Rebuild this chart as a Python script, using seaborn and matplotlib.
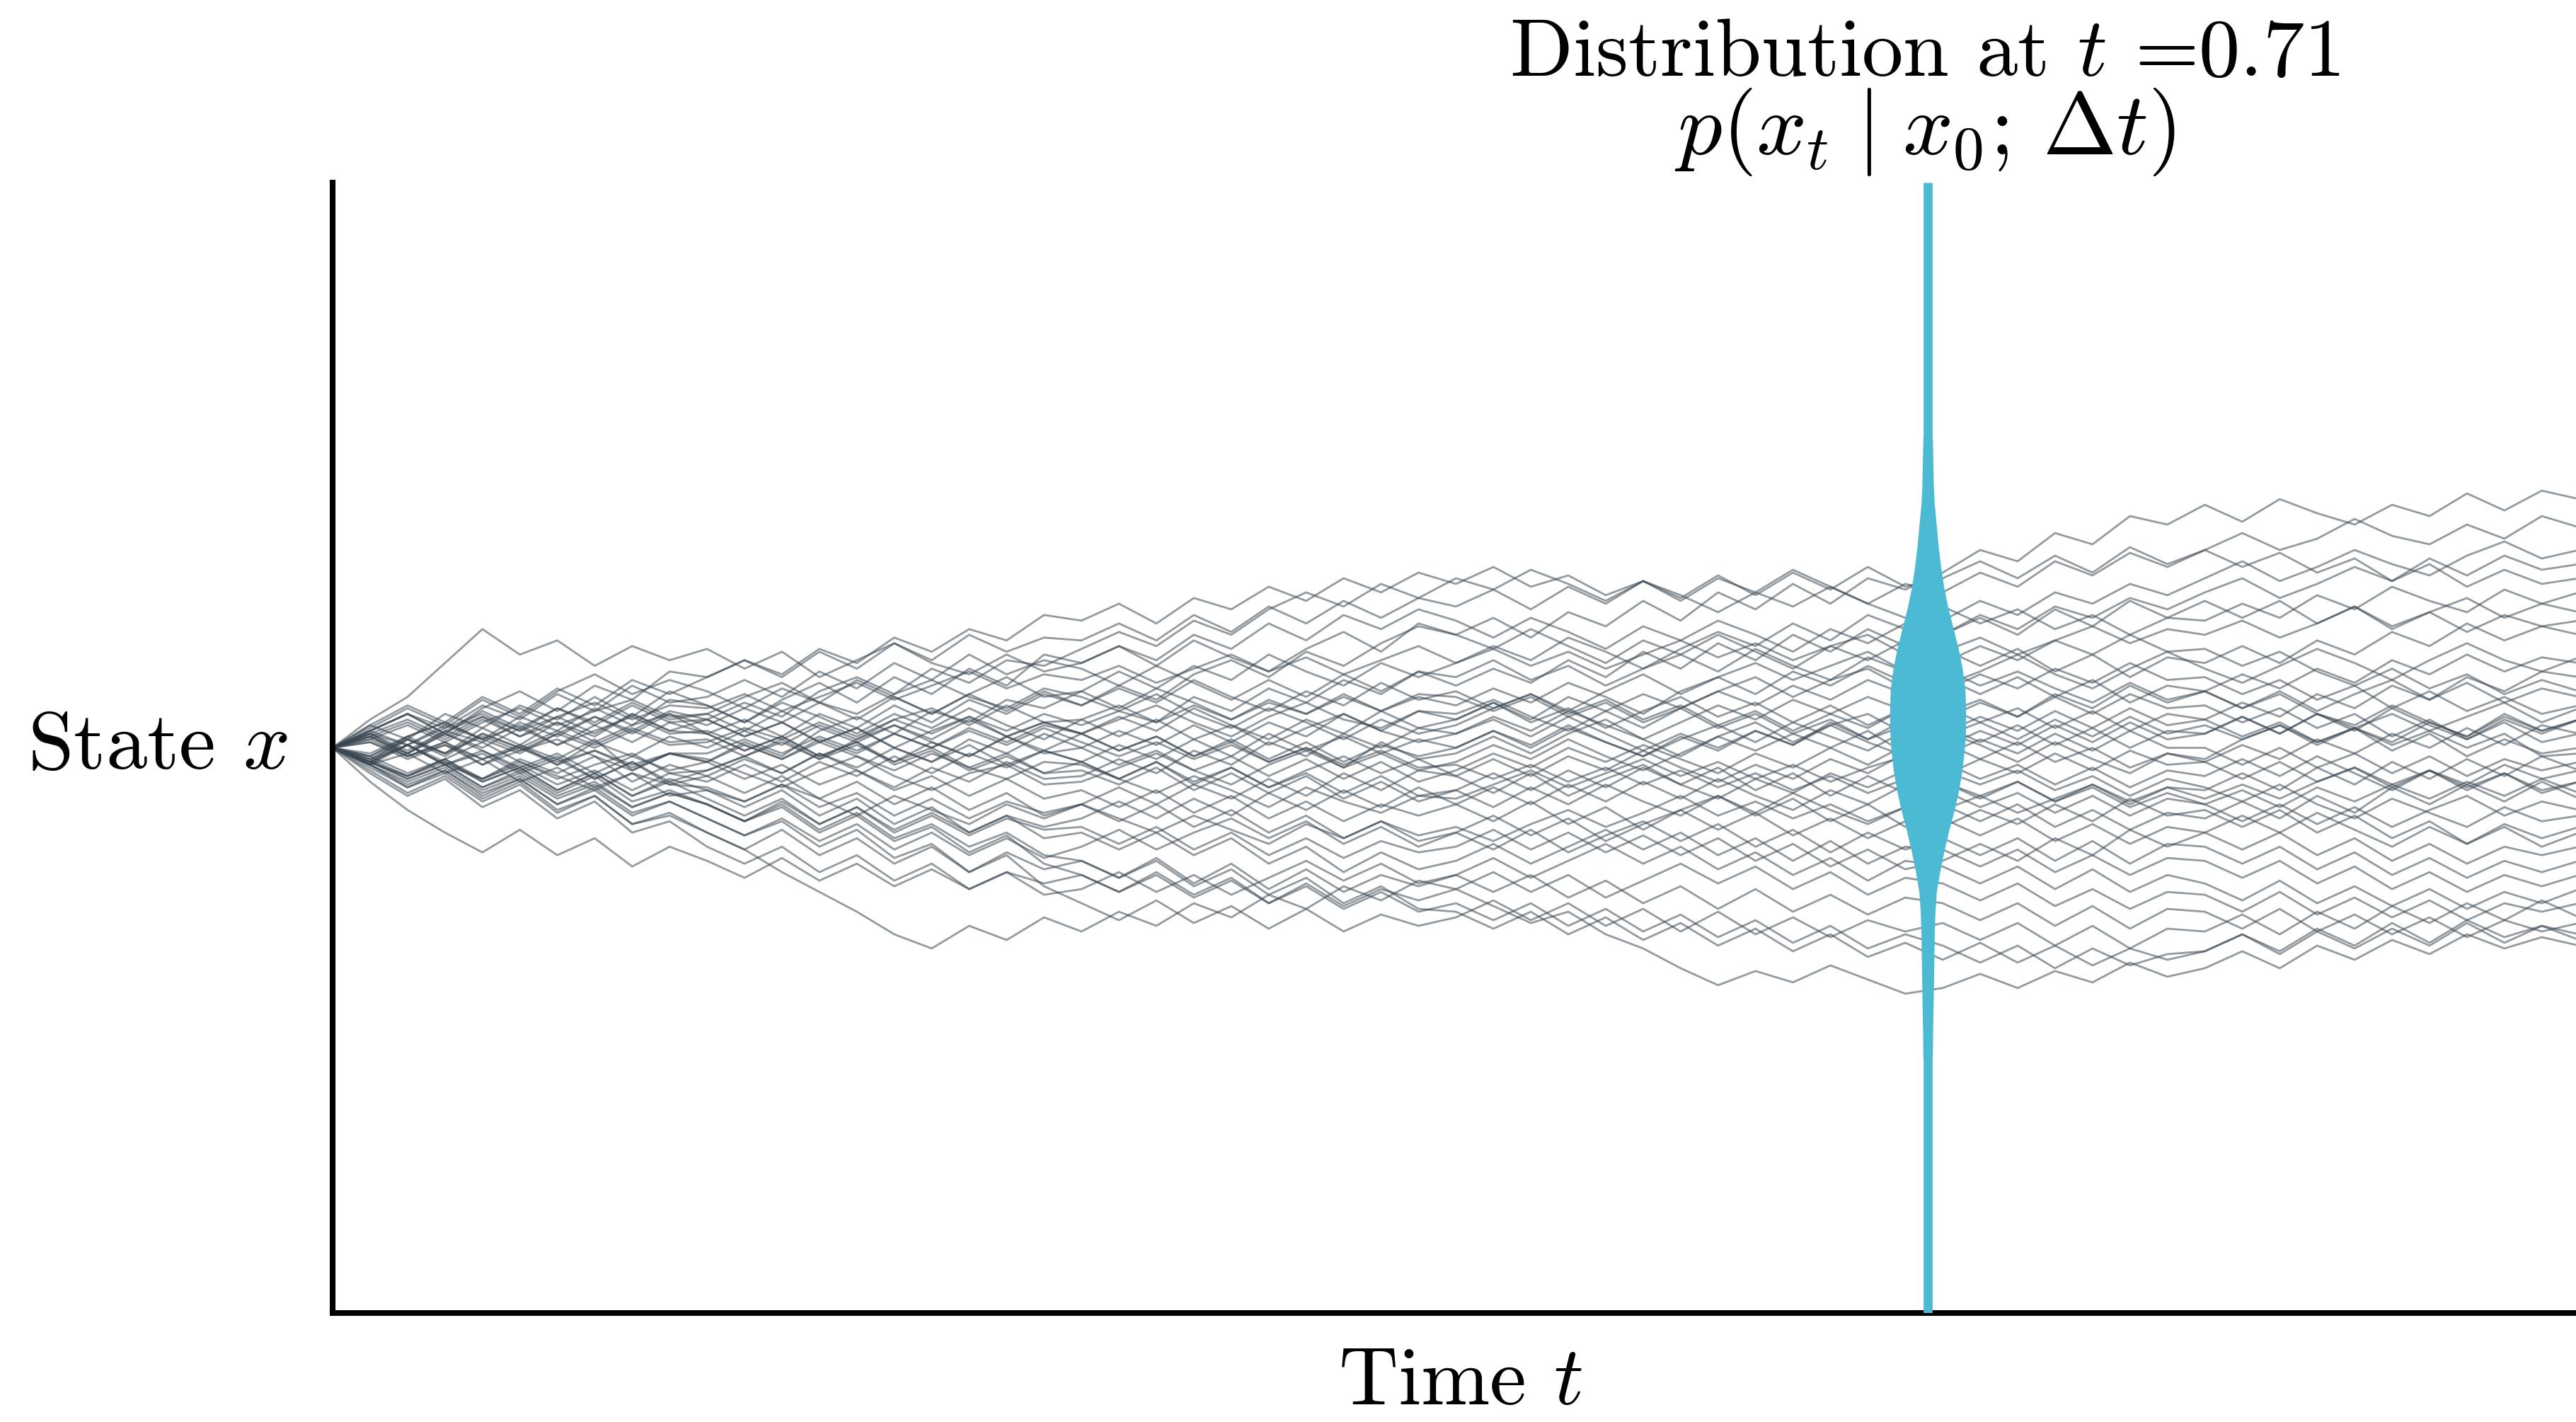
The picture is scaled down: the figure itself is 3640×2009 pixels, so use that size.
import numpy as np
import pandas as pd
import matplotlib
matplotlib.use("Agg")
import matplotlib.pyplot as plt
import seaborn as sns

# ---------------- data (state in units of 1/100) ----------------
n_steps = 60          # time grid: t = i / n_steps, i = 0..60
t_marker = 0.71       # time of the distribution slice

paths = [
    [0,8,3,12,7,15,10,18,11,20,15, 9,17,23,16,25,19,28,22,33,30, 36,29,38,32,27,35,41,34,44,40, 46,39,48,43,52,45,55,49,58,51,60,56,62, 70,66,76,72,82,79,86, 80,88,83,79,86,82,90,84,91,88],
    [0,10,18,30,42,33,38,29,36,31,35, 28,34,25,31,37,30,26,33,27,30, 36,31,40,35,44,38,47,42,49,45, 39,46,41,35,43,38,45,40,34,42,37,44,40, 47,42,50,46,53,49,55, 60,53,58,64,59,67,61,68,63,65],
    [0,6,12,5,14,20,13,22,17,27,25, 31,26,35,30,39,34,42,38,47,45, 51,44,53,49,57,52,60,55,62,58, 64,57,61,54,59,52,60,55,63,57,51,58,55, 62,57,66,61,69,64,70, 76,70,74,81,75,72,79,74,82,78],
    [0,-6,3,-2,7,1,9,4,12,6,10, 16,11,20,25,19,28,23,31,29,35, 41,36,45,40,49,55,50,58,53,60, 56,63,58,52,59,54,48,55,50,57,51,46,50, 44,49,42,47,40,46,45, 51,46,54,49,57,52,48,56,51,55],
    [0,7,14,8,17,11,20,26,19,24,20, 14,21,16,24,18,12,19,25,18,20, 27,21,29,24,33,27,22,30,25,30, 36,31,39,34,28,35,41,36,44,38,47,42,45, 52,47,55,51,58,54,60, 66,59,64,70,65,61,68,73,67,70],
    [0,5,-2,6,11,4,9,2,8,12,5, 10,4,12,7,15,9,17,12,19,15, 22,17,26,31,25,34,29,37,43,40, 35,42,36,30,38,33,40,34,28,36,31,38,35, 29,35,27,33,25,32,30, 36,30,38,33,41,36,44,38,43,40],
    [0,-5,4,9,3,11,6,14,8,17,15, 9,16,11,5,12,7,14,8,3,10, 15,9,18,13,21,16,24,19,27,25, 31,24,29,22,28,33,27,35,29,24,32,27,30, 36,31,38,33,40,34,35, 29,34,27,22,28,21,26,19,24,20],
    [0,4,-3,2,-6,1,-4,3,-8,-2,-5, 2,-3,6,11,5,13,9,17,14,20, 14,21,16,10,17,12,19,13,18,15, 21,16,23,18,12,20,25,19,27,22,29,23,25, 19,25,18,24,16,22,20, 26,21,28,23,31,26,33,27,32,30],
    [0,6,1,8,3,-2,5,11,6,13,10, 4,9,2,7,0,6,11,4,9,5, 11,6,14,8,3,10,5,13,7,10, 16,10,18,13,7,14,20,15,22,17,24,19,20, 26,21,28,23,30,24,25, 19,24,17,22,14,20,13,18,12,15],
    [0,-4,3,-3,5,0,-6,2,-3,4,0, 6,1,8,3,10,14,8,15,9,10, 4,10,3,8,1,7,12,6,2,5, 11,6,13,8,3,9,15,10,17,12,18,13,15, 9,14,7,13,6,12,10, 16,11,19,14,22,17,25,20,27,25],
    [0,5,-1,6,2,9,4,11,5,12,8, 14,9,16,10,18,12,19,13,20,15, 21,16,24,18,13,20,15,23,17,20, 14,19,12,17,10,15,8,13,6,12,7,14,10, 16,11,18,12,19,14,15, 9,14,7,12,4,10,3,9,2,5],
    [0,-6,1,-5,-11,-4,-9,-3,-12,-6,-10, -4,-9,-2,-7,0,-5,3,-2,5,0, 6,1,8,2,9,4,12,6,13,10, 16,9,14,7,13,18,11,16,9,15,8,14,12, 17,11,19,14,22,16,20, 14,20,13,19,24,17,23,16,21,18],
    [0,4,-2,5,0,7,1,8,2,9,5, -1,4,-3,2,-6,-1,-8,-3,-9,-5, 1,-4,3,-3,5,-1,4,-2,3,0, 6,1,8,2,-3,4,-1,6,1,9,3,10,8, 2,8,1,7,0,6,5, 11,5,12,7,2,9,4,12,6,10],
    [0,3,-3,2,-4,1,-6,-1,-7,-2,-5, 1,-4,3,-2,5,0,7,2,8,5, -1,4,-3,3,-4,2,-5,1,-3,0, 6,0,7,2,-3,3,8,2,9,4,-1,6,5, 11,6,13,7,14,8,10, 4,9,2,7,-1,5,-3,3,-2,0],
    [0,5,10,4,11,6,14,9,16,10,12, 6,13,7,2,8,3,10,4,-1,5, -1,4,-3,2,-5,0,-7,-2,-8,-5, 1,-4,3,-3,-8,-2,4,-1,5,0,6,-2,0, 6,1,8,2,9,3,5, 11,5,12,6,14,8,3,10,5,10],
    [0,-5,1,-6,-2,-9,-4,-11,-5,-12,-8, -3,-9,-2,-8,-14,-7,-12,-5,-11,-10, -4,-9,-1,-6,2,-3,5,0,7,5, 10,4,11,5,-1,5,0,6,1,8,2,-3,2, -4,2,-5,0,-7,-2,-5, 1,-4,3,-2,5,0,7,1,8,5],
    [0,-3,4,-2,5,0,6,1,7,2,3, -3,3,-4,1,-5,2,-3,4,-2,0, -6,-1,-8,-3,-10,-4,-11,-5,-12,-8, -2,-7,0,-5,1,-4,-9,-2,-7,0,-6,1,-3, 3,-2,5,-1,6,0,0, -6,0,-7,-2,-9,-3,-10,-4,-8,-5],
    [0,-5,-10,-4,-11,-6,-13,-8,-15,-9,-12, -6,-12,-5,-10,-3,-9,-2,-7,-1,-5, -11,-5,-13,-7,-14,-8,-3,-9,-4,-10, -4,-10,-3,-8,-1,-7,-12,-6,-11,-4,-9,-2,-5, -11,-6,-13,-7,-14,-8,-10, -4,-10,-3,-9,-15,-8,-13,-6,-11,-8],
    [0,4,9,3,10,4,11,5,12,6,5, -1,4,-3,2,-5,0,-7,-2,-9,-8, -13,-7,-15,-9,-16,-10,-18,-12,-19,-15, -9,-15,-8,-14,-7,-13,-18,-11,-16,-9,-14,-8,-10, -4,-9,-2,-8,-1,-6,-5, -11,-5,-12,-7,-14,-8,-15,-9,-16,-12],
    [0,-6,-2,-9,-4,-12,-7,-14,-9,-17,-15, -19,-13,-21,-16,-24,-18,-25,-19,-23,-20, -14,-20,-13,-18,-11,-17,-9,-15,-8,-10, -16,-9,-17,-11,-6,-13,-7,-15,-9,-17,-10,-16,-12, -18,-12,-19,-13,-20,-14,-15, -9,-15,-7,-13,-5,-11,-4,-10,-3,-8],
    [0,4,-2,5,-1,-7,-2,-9,-3,-8,-5, -11,-6,-13,-8,-15,-10,-17,-11,-18,-15, -21,-15,-23,-17,-25,-19,-26,-20,-24,-20, -14,-20,-13,-19,-12,-18,-11,-17,-22,-15,-20,-13,-15, -21,-16,-23,-17,-24,-18,-20, -26,-20,-27,-21,-28,-22,-17,-24,-19,-22],
    [0,6,12,5,13,7,14,8,15,9,10, 4,9,2,7,0,-5,1,-6,-1,-5, -11,-5,-12,-7,-14,-9,-16,-10,-17,-15, -21,-14,-20,-13,-19,-24,-17,-23,-16,-22,-27,-21,-20, -26,-20,-28,-22,-29,-23,-25, -19,-25,-17,-23,-14,-20,-13,-19,-12,-18],
    [0,-6,-12,-7,-15,-10,-18,-13,-21,-16,-20, -26,-19,-27,-21,-29,-23,-30,-24,-28,-25, -19,-25,-18,-24,-16,-22,-15,-21,-14,-20, -26,-19,-27,-21,-29,-22,-17,-24,-18,-26,-20,-28,-25, -31,-25,-33,-27,-34,-28,-30, -24,-30,-23,-29,-35,-28,-34,-27,-32,-28],
    [0,-5,1,-6,-1,-8,-3,-11,-5,-13,-10, -16,-10,-18,-12,-20,-14,-22,-16,-24,-20, -26,-20,-28,-22,-30,-24,-32,-26,-33,-30, -24,-31,-25,-33,-27,-22,-29,-23,-31,-25,-32,-26,-28, -22,-27,-20,-26,-18,-24,-22, -28,-22,-30,-24,-32,-26,-34,-28,-35,-30],
    [0,-7,-14,-8,-17,-11,-20,-15,-24,-19,-25, -31,-25,-33,-27,-36,-30,-38,-32,-39,-35, -29,-36,-30,-25,-32,-26,-34,-28,-35,-30, -36,-29,-37,-31,-26,-33,-27,-35,-29,-37,-30,-36,-32, -38,-32,-40,-33,-41,-34,-35, -41,-35,-43,-37,-45,-39,-46,-40,-44,-40],
    [0,-4,-10,-5,-12,-7,-15,-9,-17,-11,-15, -21,-15,-24,-18,-27,-21,-30,-24,-32,-30, -36,-30,-38,-32,-41,-35,-44,-37,-43,-40, -34,-41,-35,-29,-36,-30,-38,-32,-40,-33,-41,-35,-36, -42,-36,-44,-38,-45,-39,-40, -46,-40,-48,-42,-50,-44,-51,-45,-49,-45],
    [0,-8,-16,-10,-19,-13,-23,-17,-27,-24,-30, -36,-29,-38,-32,-41,-35,-44,-37,-43,-40, -46,-39,-48,-41,-50,-43,-51,-45,-49,-45, -39,-46,-40,-34,-41,-35,-43,-37,-45,-39,-47,-40,-42, -48,-42,-50,-43,-51,-45,-48, -54,-47,-55,-49,-56,-50,-57,-51,-55,-50],
    [0,-5,-11,-6,-14,-9,-17,-12,-21,-16,-20, -26,-21,-30,-24,-33,-28,-37,-31,-41,-45, -51,-44,-52,-46,-55,-48,-56,-50,-54,-50, -44,-51,-45,-53,-47,-41,-48,-42,-50,-44,-52,-46,-48, -54,-48,-56,-50,-57,-51,-52, -58,-51,-59,-53,-60,-54,-61,-55,-58,-55],
    [0,-9,-17,-11,-21,-15,-25,-19,-30,-26,-35, -41,-35,-44,-38,-47,-41,-50,-44,-52,-50, -44,-51,-45,-52,-46,-40,-47,-41,-48,-45, -51,-45,-53,-47,-55,-49,-57,-50,-58,-52,-59,-53,-55, -61,-55,-63,-56,-64,-57,-58, -64,-57,-65,-59,-66,-60,-67,-61,-65,-62],
    [0,-6,-13,-8,-16,-11,-20,-14,-23,-19,-25, -31,-26,-35,-29,-39,-34,-44,-38,-49,-55, -61,-54,-62,-56,-64,-57,-65,-59,-63,-60, -54,-61,-55,-63,-57,-65,-58,-66,-60,-67,-61,-65,-62, -68,-62,-70,-63,-71,-64,-65, -59,-66,-58,-64,-56,-62,-55,-61,-54,-60],
    [0,-12,-22,-30,-37,-29,-38,-32,-42,-35,-40, -46,-39,-47,-41,-49,-43,-50,-44,-48,-45, -51,-45,-53,-47,-55,-49,-57,-51,-58,-55, -61,-55,-63,-57,-65,-59,-67,-61,-69,-63,-71,-66,-70, -76,-70,-78,-71,-77,-73,-72, -66,-73,-65,-71,-64,-70,-62,-69,-63,-68],
    [0,-6,-14,-9,-18,-12,-22,-17,-27,-23,-30, -36,-44,-51,-58,-66,-71,-63,-68,-60,-65, -58,-63,-55,-60,-52,-57,-49,-54,-47,-50, -56,-62,-58,-66,-71,-78,-84,-79,-83,-77,-82,-87,-85, -80,-85,-79,-83,-76,-81,-78, -72,-78,-70,-75,-68,-73,-66,-71,-67,-70],
    [0,-5,-11,-6,-14,-8,-16,-10,-19,-15,-20, -26,-20,-29,-23,-32,-27,-35,-30,-38,-40, -46,-40,-49,-43,-52,-46,-55,-49,-57,-58, -64,-58,-66,-60,-68,-62,-70,-64,-72,-66,-74,-69,-75, -69,-76,-70,-77,-71,-75,-72, -66,-72,-64,-70,-62,-69,-61,-67,-63,-66],
    [0,8,15,9,18,12,21,15,24,19,25, 31,25,34,28,37,31,40,34,39,38, 44,38,47,41,50,44,52,46,53,50, 56,49,57,51,59,53,61,54,62,56,64,57,60, 66,60,68,62,71,65,70, 64,69,62,67,59,65,57,63,58,60],
    [0,6,12,7,15,10,19,13,22,16,18, 24,18,27,21,30,24,33,26,31,28, 22,29,23,17,24,18,26,20,27,22, 28,23,31,25,34,28,37,31,40,34,42,36,40, 46,40,49,43,52,46,52, 46,52,44,50,42,48,41,47,43,45],
    [0,-5,-10,-4,-12,-7,-15,-9,-17,-12,-18, -24,-18,-27,-21,-30,-24,-31,-25,-29,-28, -34,-28,-36,-30,-38,-32,-39,-33,-37,-35, -29,-36,-30,-37,-31,-38,-32,-40,-34,-42,-36,-43,-40, -34,-40,-32,-38,-29,-35,-30, -36,-30,-38,-32,-40,-34,-41,-35,-38,-35],
    [0,-3,-9,-4,2,-5,-11,-6,-2,-9,-8, -3,2,-4,3,8,2,-3,4,9,5, 10,15,9,4,11,16,10,7,13,12, 17,11,6,13,19,14,20,25,18,24,28,21,22, 27,33,26,21,28,34,28, 23,29,35,30,24,31,37,31,27,32],
    [0,3,8,2,9,14,8,13,17,11,12, 18,23,16,12,19,24,18,14,21,18, 13,19,12,7,14,9,3,10,5,8, 14,19,13,20,26,19,25,30,24,29,34,27,28, 22,27,21,16,23,17,20, 14,19,12,8,15,9,4,11,6,10],
    [0,2,-4,1,-6,-1,3,-3,-8,-2,-4, -9,-14,-8,-3,-10,-15,-9,-6,-13,-12, -7,-2,-8,-13,-6,-1,-7,2,-4,-2, 4,-2,5,10,3,-3,4,9,2,8,12,5,6, 1,-5,2,-4,-9,-2,-4, 3,8,1,7,12,6,11,16,9,14],
    [0,-2,4,9,3,8,1,6,11,5,6, 1,-4,2,-3,-8,-2,-7,-11,-5,-6, -11,-16,-10,-15,-21,-14,-19,-23,-17,-18, -13,-8,-14,-9,-4,-10,-5,-11,-6,-12,-7,-3,-8, -13,-8,-15,-10,-17,-11,-14, -19,-13,-20,-25,-18,-23,-28,-21,-26,-24],
    [0,5,1,7,12,6,11,16,10,15,14, 19,13,18,23,17,22,27,21,26,24, 29,23,28,33,27,32,26,31,36,30, 35,29,34,28,33,38,32,37,31,36,40,33,34, 39,33,38,43,37,42,40, 45,39,44,50,43,48,53,46,51,48],
    [0,-4,1,-6,-11,-5,-10,-15,-9,-13,-14, -19,-13,-18,-24,-17,-22,-27,-20,-25,-20, -25,-30,-24,-29,-34,-27,-32,-26,-31,-28, -33,-27,-22,-28,-23,-17,-24,-19,-25,-20,-26,-21,-22, -17,-23,-18,-13,-19,-14,-18, -13,-18,-12,-7,-13,-8,-14,-9,-15,-12],
    [0,-3,3,-2,4,-1,5,0,6,1,2, 7,3,9,4,10,5,11,6,12,8, 13,9,15,10,16,12,18,13,19,18, 13,18,11,16,9,14,7,12,5,10,3,8,4, 9,3,10,4,11,5,8, 3,8,2,7,1,6,0,5,-3,-2],
    [0,2,-3,1,-4,0,-5,-1,-6,-2,-2, 3,-2,4,-1,5,0,6,1,7,2, -3,2,-4,1,-5,0,-6,-1,-7,-6, -11,-6,-12,-7,-13,-8,-14,-9,-15,-10,-16,-11,-12, -17,-12,-19,-14,-21,-16,-20, -15,-21,-14,-19,-13,-18,-12,-17,-11,-16],
]

# distribution p(x_t | x_0) at t = 0.71
violin_state = [1.10, 0.93, 0.86, 0.785, 0.71, 0.64, 0.57, 0.50, 0.43, 0.35, 0.28, 0.21, 0.14,
                0.065, -0.01, -0.08, -0.15, -0.22, -0.29, -0.365, -0.44, -0.51, -0.58, -0.65,
                -0.76, -0.87, -1.00, -1.10]
violin_density = [0.0, 0.03, 0.06, 0.12, 0.18, 0.25, 0.34, 0.46, 0.61, 0.78, 0.90, 0.98, 1.0,
                  1.0, 0.96, 0.89, 0.79, 0.66, 0.50, 0.35, 0.22, 0.12, 0.08, 0.06,
                  0.045, 0.03, 0.01, 0.0]

# ---------------- build long table ----------------
rows = []
for k, p in enumerate(paths):
    for i, v in enumerate(p):
        rows.append((k, i / n_steps, v / 100.0))
df = pd.DataFrame(rows, columns=["path", "t", "x"])

# ---------------- figure ----------------
sns.set_style("white")
plt.rcParams["font.family"] = ["cmr10", "DejaVu Serif"]
plt.rcParams["mathtext.fontset"] = "cm"
plt.rcParams["axes.unicode_minus"] = False
plt.rcParams["axes.formatter.use_mathtext"] = True

W, H, DPI = 3641, 2009, 200
fig = plt.figure(figsize=(W / DPI, H / DPI), dpi=DPI, facecolor="white")
ax = fig.add_axes([470 / W, (H - 1855) / H, 1 - 470 / W + 0.001, (1855 - 258) / H])
ax.set_facecolor("white")

sns.lineplot(data=df, x="t", y="x", units="path", estimator=None, sort=False,
             color="#3a4752", alpha=0.55, linewidth=1.0, legend=False, ax=ax)

cyan = "#4cbad3"
ax.axvline(t_marker, ymin=0, ymax=1, color=cyan, lw=4.6, zorder=5, solid_capstyle="butt")
vs = np.array(violin_state)
vd = np.array(violin_density)
half = 0.0021 + vd * 0.0148
ax.fill_betweenx(vs, t_marker - half, t_marker + half, color=cyan, lw=0, zorder=6)

ax.set_xlim(0, 1)
ax.set_ylim(-2, 2)
ax.set_xticks([])
ax.set_yticks([])
ax.set_xlabel("")
ax.set_ylabel("")
for s in ["top", "right"]:
    ax.spines[s].set_visible(False)
for s in ["left", "bottom"]:
    ax.spines[s].set_color("black")
    ax.spines[s].set_linewidth(2.9)
    ax.spines[s].set_capstyle("projecting")

fs = 42
ax.text(-0.02, 0.0, r"State $x$", transform=ax.get_yaxis_transform(),
        ha="right", va="center", fontsize=fs, color="black")
fig.text(2063 / W, 1 - 2006 / H, r"Time $t$", ha="center", va="bottom",
         fontsize=fs, color="black")
fig.text(2720 / W, 1 - 107 / H, r"Distribution at $t$ =0.71", ha="center",
         va="baseline", fontsize=fs, color="black")
fig.text(2720 / W, 1 - 218 / H, r"$p(x_t\;|\;x_0;\,\Delta t)$", ha="center",
         va="baseline", fontsize=45, color="black")

fig.savefig("out.png", dpi=DPI, facecolor="white")
